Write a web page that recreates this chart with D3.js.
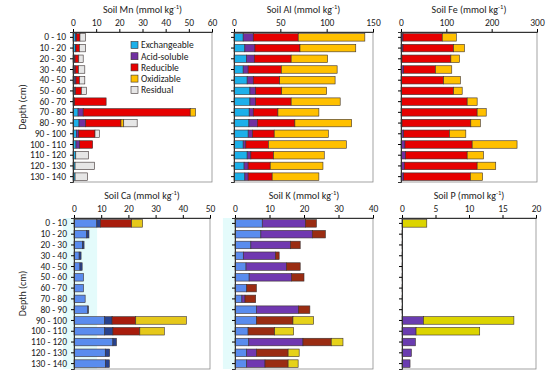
<!DOCTYPE html>
<html>
<head>
<meta charset="utf-8">
<script src="https://cdn.jsdelivr.net/npm/d3@7"></script>
<style>
  body { margin: 0; background: #fff; }
  svg text { font-family: Calibri, Carlito, "Open Sans", sans-serif; fill: #222; }
</style>
</head>
<body>
<script>
// depth classes and fractions
const depths = ["0 - 10", "10 - 20", "20 - 30", "30 - 40", "40 - 50", "50 - 60", "60 - 70",
  "70 - 80", "80 - 90", "90 - 100", "100 - 110", "110 - 120", "120 - 130", "130 - 140"];
const fractions = ["Exchangeable", "Acid-soluble", "Reducible", "Oxidizable", "Residual"];

// one row per depth: [exch, acid, reducible, oxidizable, residual]
const mnValues = [
  [1.0, 0.5, 1.5, 0, 2.4], [1.0, 0.3, 1.5, 0, 2.6], [0.6, 0.3, 1.6, 0, 1.9], [0.6, 0.4, 1.4, 0, 2.7],
  [0.8, 0.5, 1.5, 0, 2.3], [0.8, 0.3, 2.5, 0, 2.2], [0.5, 0.2, 13.6, 0, 0], [2.2, 2.2, 46.2, 2.3, 0],
  [2.6, 2.9, 15.2, 1.2, 5.8], [1.5, 1.0, 7.0, 0, 1.9], [1.3, 1.6, 5.6, 0, 0], [1.2, 0, 0, 0, 5.5],
  [0.9, 0, 0, 0, 8.4], [0.9, 0, 0, 0, 5.4]];
const alValues = [
  [9.9, 10.9, 48.5, 71.9, 0], [11.7, 10.9, 48.6, 60.2, 0], [13.5, 8.4, 39.8, 39.4, 0], [9.9, 5.4, 35.8, 60.2, 0],
  [14.2, 6.6, 28.5, 59.8, 0], [17.2, 6.2, 28.1, 48.5, 0], [17.2, 6.2, 38.3, 52.9, 0], [16.4, 4.4, 26.6, 44.2, 0],
  [16.1, 9.1, 40.5, 61.3, 0], [15.3, 4.8, 23.3, 58.4, 0], [9.9, 2.9, 24.4, 84.0, 0], [14.2, 4.0, 24.5, 54.7, 0],
  [10.9, 4.4, 23.8, 56.9, 0], [11.7, 3.6, 25.9, 50.4, 0]];
const feValues = [
  [0, 4.4, 86.6, 31, 0], [0, 4.4, 111.6, 24, 0], [0, 2.2, 107.8, 19, 0], [0, 5.9, 70.1, 36, 0],
  [0, 1.5, 92.5, 37, 0], [0, 1.5, 114.5, 19, 0], [0, 1.5, 144.5, 22, 0], [0, 1.5, 166.5, 20, 0],
  [0, 2.2, 151.8, 21, 0], [0, 5.9, 101.1, 36, 0], [0, 8.8, 148.2, 99, 0], [0, 10.3, 135.7, 36, 0],
  [0, 7.4, 160.6, 41, 0], [0, 5.9, 147.1, 27, 0]];
const caValues = [
  [8.4, 1.3, 11.5, 4.0, 0], [4.7, 0.8, 0, 0, 0], [3.1, 0.6, 0, 0, 0], [1.9, 0.7, 0, 0, 0],
  [2.2, 0.8, 0, 0, 0], [3.5, 0, 0, 0, 0], [3.5, 0, 0, 0, 0], [4.1, 0, 0, 0, 0],
  [5.1, 0.2, 0, 0, 0], [11.3, 2.7, 8.7, 18.6, 0], [11.3, 3.0, 9.9, 9.0, 0], [14.3, 1.3, 0, 0, 0],
  [11.5, 1.6, 0, 0, 0], [11.6, 1.4, 0, 0, 0]];
const kValues = [
  [7.9, 12.5, 3.2, 0, 0], [7.5, 14.9, 3.8, 0, 0], [4.6, 11.5, 2.8, 0, 0], [2.4, 9.4, 1.0, 0, 0],
  [3.2, 11.7, 4.0, 0, 0], [4.1, 12.3, 3.6, 0, 0], [3.4, 0, 2.8, 0, 0], [2.0, 0.9, 3.1, 0, 0],
  [6.2, 12.2, 3.3, 0, 0], [6.2, 0, 10.6, 6.0, 0], [3.8, 0, 7.7, 5.5, 0], [4.0, 15.7, 8.2, 3.4, 0],
  [3.4, 2.8, 9.2, 3.2, 0], [3.4, 5.3, 6.7, 2.9, 0]];
const pValues = [
  [0, 0, 0, 3.7, 0], [0, 0.1, 0, 0, 0], [0, 0.1, 0, 0, 0], [0, 0.1, 0, 0, 0],
  [0, 0.1, 0, 0, 0], [0, 0.1, 0, 0, 0], [0, 0.1, 0, 0, 0], [0, 0.1, 0, 0, 0],
  [0, 0.1, 0, 0, 0], [0, 3.2, 0, 13.5, 0], [0, 2.1, 0, 9.5, 0], [0, 2.0, 0, 0, 0],
  [0, 1.4, 0, 0, 0], [0, 1.2, 0, 0, 0]];

const topColors = ["#1cb0ea", "#7030a0", "#e60000", "#ffc000", "#e6e6e6"];

const panels = [
  { el: "Mn", values: mnValues, max: 60, ticks: [0, 10, 20, 30, 40, 50, 60], x: [73, 212], y: [32, 182], colors: topColors, labels: true },
  { el: "Al", values: alValues, max: 150, ticks: [0, 50, 100, 150], x: [234, 373], y: [32, 182], colors: topColors },
  { el: "Fe", values: feValues, max: 300, ticks: [0, 100, 200, 300], x: [401, 537], y: [32, 182], colors: topColors },
  { el: "Ca", values: caValues, max: 50, ticks: [0, 10, 20, 30, 40, 50], x: [74, 210], y: [218, 369], labels: true,
    colors: ["#5a8cee", "#28428f", "#a81c0c", "#e6c81a", "#e6e6e6"], glow: [-4, 8.5] },
  { el: "K", values: kValues, max: 40, ticks: [0, 10, 20, 30, 40], x: [235, 373], y: [218, 369],
    colors: ["#5a8cee", "#7038b0", "#9a2c12", "#e6d21a", "#e6e6e6"], glow: [-3.5, 0.3] },
  { el: "P", values: pValues, max: 20, ticks: [0, 5, 10, 15, 20], x: [402, 536], y: [218, 369],
    colors: ["#5a8cee", "#6a3cb0", "#9a2c12", "#dcd400", "#e6e6e6"] }
];

const svg = d3.select("body").append("svg").attr("width", 550).attr("height", 379);

panels.forEach(p => {
  const g = svg.append("g");
  const x = d3.scaleLinear().domain([0, p.max]).range(p.x);
  const y = d3.scaleBand().domain(depths).range(p.y).paddingInner(0.3).paddingOuter(0.15);

  // faint cyan halo seen in the lower panels
  if (p.glow) {
    g.append("rect").attr("x", x(p.glow[0])).attr("y", p.y[0])
      .attr("width", x(p.glow[1]) - x(p.glow[0])).attr("height", p.y[1] - p.y[0])
      .attr("fill", "#e4fbfb");
  }

  // stacked segments
  p.values.forEach((row, i) => {
    let start = 0;
    row.forEach((v, j) => {
      if (v > 0) {
        g.append("rect")
          .attr("x", x(start)).attr("y", y(depths[i]))
          .attr("width", x(start + v) - x(start)).attr("height", y.bandwidth())
          .attr("fill", p.colors[j]).attr("stroke", "#3a3030").attr("stroke-width", 0.6);
      }
      start += v;
    });
  });

  // frame
  g.append("rect").attr("x", p.x[0]).attr("y", p.y[0])
    .attr("width", p.x[1] - p.x[0]).attr("height", p.y[1] - p.y[0])
    .attr("fill", "none").attr("stroke", "#8c8c8c").attr("stroke-width", 0.8);

  // top axis
  const xAxis = d3.axisTop(x).tickValues(p.ticks).tickSize(3).tickPadding(3);
  const ax = g.append("g").attr("transform", `translate(0,${p.y[0]})`).call(xAxis);
  ax.select(".domain").attr("stroke", "#333");
  ax.selectAll("text").attr("font-size", 9.5);

  // left axis
  const yAxis = d3.axisLeft(y).tickSize(3).tickPadding(4);
  const ay = g.append("g").attr("transform", `translate(${p.x[0]},0)`).call(yAxis);
  ay.select(".domain").attr("stroke", "#333");
  if (p.labels) {
    ay.selectAll("text").attr("font-size", 9.5);
    g.append("text").attr("transform", `translate(22,${(p.y[0] + p.y[1]) / 2}) rotate(-90)`)
      .attr("text-anchor", "middle").attr("dy", "0.35em").attr("font-size", 10).text("Depth (cm)");
  } else {
    ay.selectAll("text").remove();
  }

  // title
  const t = g.append("text").attr("x", (p.x[0] + p.x[1]) / 2).attr("y", p.y[0] - 19)
    .attr("text-anchor", "middle").attr("font-size", 10);
  t.append("tspan").text(`Soil ${p.el} (mmol  kg`);
  t.append("tspan").attr("font-size", 6.5).attr("dy", -4).text("-1");
  t.append("tspan").attr("dy", 4).text(")");
});

// legend inside the Mn panel
const legend = svg.append("g").attr("transform", "translate(131,45)");
fractions.forEach((f, i) => {
  legend.append("rect").attr("x", 0).attr("y", i * 11.2 - 3.5).attr("width", 7).attr("height", 7)
    .attr("fill", topColors[i]).attr("stroke", "#3a3030").attr("stroke-width", 0.6);
  legend.append("text").attr("x", 10).attr("y", i * 11.2).attr("dy", "0.35em")
    .attr("font-size", 9.5).text(f);
});
</script>
</body>
</html>
